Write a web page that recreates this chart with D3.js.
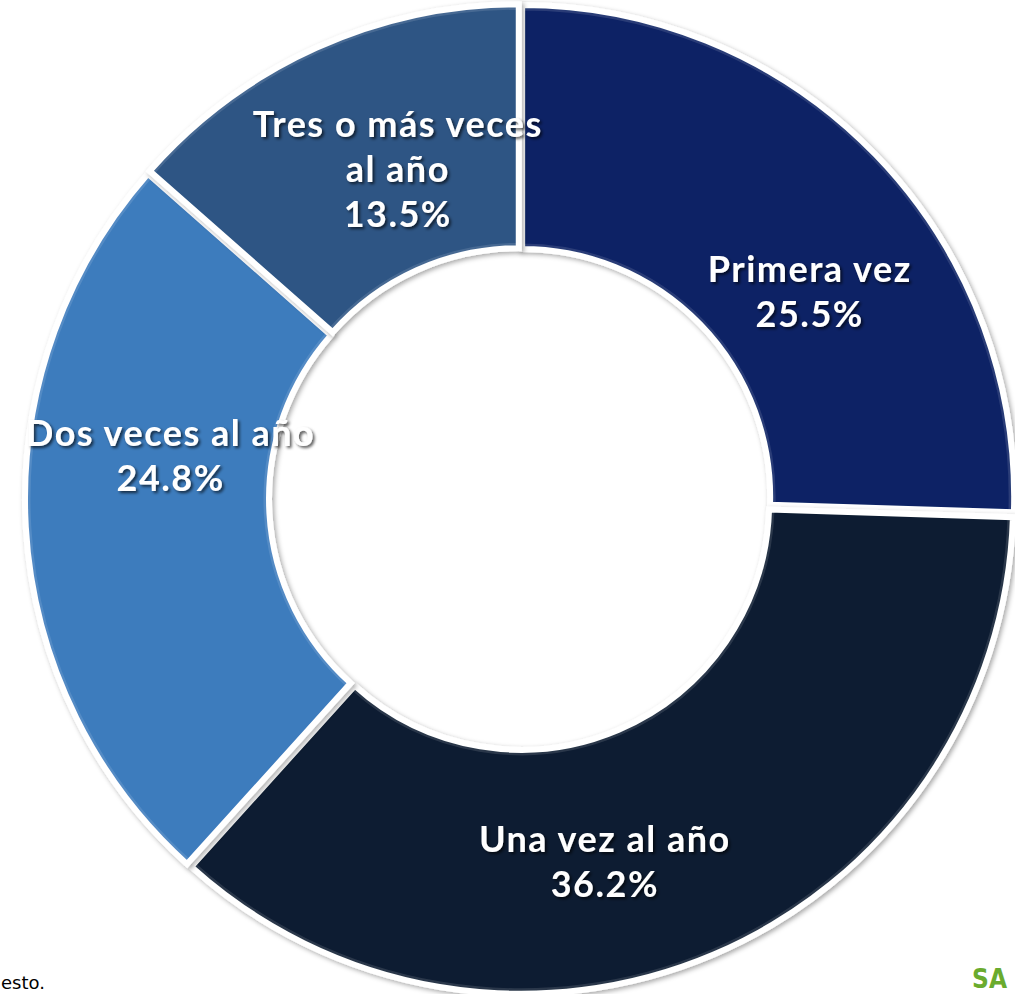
<!DOCTYPE html>
<html>
<head>
<meta charset="utf-8">
<script src="https://cdn.jsdelivr.net/npm/d3@7"></script>
<style>
  html, body { margin: 0; padding: 0; background: #fff; overflow: hidden; }
  #chart { width: 1015px; height: 994px; }
</style>
</head>
<body>
<div id="chart"></div>
<script>
// slice data, clockwise from 12 o'clock
const categories = ["Primera vez", "Una vez al año", "Dos veces al año", "Tres o más veces al año"];
const values = [25.5, 36.2, 24.8, 13.5];
const labelLines = [
  ["Primera vez"],
  ["Una vez al año"],
  ["Dos veces al año"],
  ["Tres o más veces", "al año"]
];
const colors = ["#0a2465", "#0b1c30", "#3e7bbd", "#2d5584"];

const width = 1015;
const height = 994;
const cx = 520, cy = 499;
const outerR = 492, innerR = 248;

// label nudges relative to the arc centroid (px)
const labelNudge = [[24, 50], [-60, 22], [20, -64], [30, 8]];

const svg = d3.select("#chart")
  .append("svg")
  .attr("width", width)
  .attr("height", height);

const defs = svg.append("defs");

const shadow = defs.append("filter")
  .attr("id", "sliceShadow")
  .attr("x", "-10%").attr("y", "-10%")
  .attr("width", "120%").attr("height", "120%");
shadow.append("feDropShadow")
  .attr("dx", 2).attr("dy", 2)
  .attr("stdDeviation", 2.5)
  .attr("flood-color", "#000")
  .attr("flood-opacity", 0.35);

const textShadow = defs.append("filter")
  .attr("id", "textShadow")
  .attr("x", "-10%").attr("y", "-30%")
  .attr("width", "120%").attr("height", "160%");
textShadow.append("feDropShadow")
  .attr("dx", 2).attr("dy", 2)
  .attr("stdDeviation", 1.5)
  .attr("flood-color", "#000")
  .attr("flood-opacity", 0.65);

const pie = d3.pie().sort(null).value((d) => d);
const arcs = pie(values);

const arc = d3.arc()
  .innerRadius(innerR)
  .outerRadius(outerR);

const g = svg.append("g")
  .attr("transform", `translate(${cx},${cy})`);

const explode = (d) => {
  const a = (d.startAngle + d.endAngle) / 2;
  const k = 3;
  return `translate(${Math.sin(a) * k},${-Math.cos(a) * k})`;
};

// slices, each pushed out a little along its bisector
g.selectAll("path.slice")
  .data(arcs)
  .enter()
  .append("path")
  .attr("class", "slice")
  .attr("d", arc)
  .attr("fill", (d, i) => colors[i])
  .attr("stroke", "#fff")
  .attr("stroke-width", 6)
  .attr("stroke-linejoin", "miter")
  .attr("filter", "url(#sliceShadow)")
  .attr("transform", explode);

// subtle bevel highlight along the slice edges
g.selectAll("path.bevel")
  .data(arcs)
  .enter()
  .append("path")
  .attr("class", "bevel")
  .attr("d", d3.arc().innerRadius(innerR + 4).outerRadius(outerR - 4))
  .attr("fill", "none")
  .attr("stroke", "#ffffff")
  .attr("stroke-opacity", 0.12)
  .attr("stroke-width", 3)
  .attr("transform", explode);

// labels
const labelArc = d3.arc()
  .innerRadius((innerR + outerR) / 2)
  .outerRadius((innerR + outerR) / 2);

const lineH = 45;
const label = g.selectAll("text.label")
  .data(arcs)
  .enter()
  .append("text")
  .attr("class", "label")
  .attr("text-anchor", "middle")
  .attr("fill", "#fff")
  .attr("font-family", "Lato, 'Open Sans', sans-serif")
  .attr("font-weight", 700)
  .attr("font-size", 36)
  .attr("letter-spacing", 1.5)
  .attr("filter", "url(#textShadow)")
  .attr("transform", (d, i) => {
    const [x, y] = labelArc.centroid(d);
    return `translate(${x + labelNudge[i][0]},${y + labelNudge[i][1]})`;
  });

label.each(function (d, i) {
  const lines = labelLines[i].concat([values[i].toFixed(1) + "%"]);
  const t = d3.select(this);
  const top = -((lines.length - 1) * lineH) / 2;
  lines.forEach((s, j) => {
    t.append("tspan")
      .attr("x", 0)
      .attr("y", top + j * lineH)
      .attr("dy", "0.35em")
      .text(s);
  });
});

// footer fragments at the edges
svg.append("text")
  .attr("x", 1)
  .attr("y", 989)
  .attr("font-family", "'DejaVu Sans', sans-serif")
  .attr("font-size", 18)
  .attr("fill", "#000")
  .text("esto.");

svg.append("text")
  .attr("x", 1007)
  .attr("y", 988)
  .attr("text-anchor", "end")
  .attr("font-family", "'DejaVu Sans Condensed', 'Liberation Sans Narrow', sans-serif")
  .attr("font-weight", 700)
  .attr("font-size", 26)
  .attr("fill", "#6aab2e")
  .text("SA");
</script>
</body>
</html>
